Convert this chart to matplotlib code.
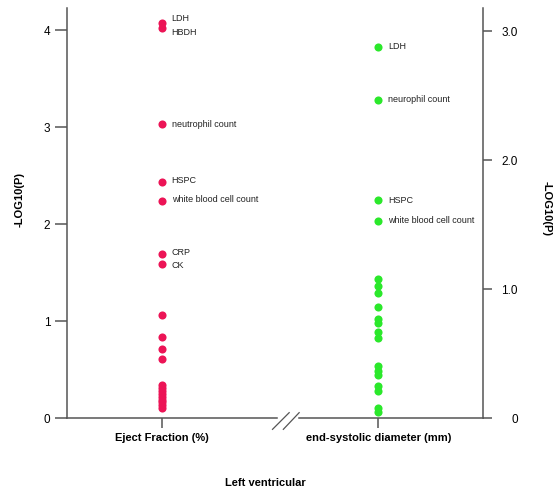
import matplotlib.pyplot as plt
from matplotlib.lines import Line2D

plt.rcParams['font.family'] = ['Liberation Sans', 'DejaVu Sans']

# categorias del eje x
categorias = ["Eject Fraction (%)", "end-systolic diameter (mm)"]

# Eject Fraction: -log10(P), eje izquierdo
ef_vals = [4.08, 4.02, 3.03, 2.44, 2.24, 1.69, 1.59, 1.06, 0.84, 0.71, 0.61,
           0.34, 0.31, 0.28, 0.25, 0.22, 0.19, 0.16, 0.13, 0.10]
ef_labels = ["LDH", "HBDH", "neutrophil count", "HSPC", "white blood cell count", "CRP", "CK"]

# end-systolic diameter: -log10(P), eje derecho
esd_vals = [2.88, 2.47, 1.69, 1.53, 1.08, 1.02, 0.97, 0.86, 0.77, 0.74, 0.67, 0.62,
            0.40, 0.365, 0.335, 0.25, 0.21, 0.08, 0.045]
esd_labels = ["LDH", "neurophil count", "HSPC", "white blood cell count"]

rojo = "#EC1456"
verde = "#2BE82B"
gris = "#555555"

fig = plt.figure(figsize=(5.57, 4.92), dpi=100)
ax = fig.add_axes([0.1203, 0.1504, 0.7469, 0.8333])
ax2 = ax.twinx()

ax.scatter([0] * len(ef_vals), ef_vals, color=rojo, s=34, linewidths=0, clip_on=False, zorder=3)
ax2.scatter([1] * len(esd_vals), esd_vals, color=verde, s=34, linewidths=0, clip_on=False, zorder=3)

# etiquetas de los puntos
ef_offsets = [3, -3, 0, 1, 1, 1, -1]
for i, lab in enumerate(ef_labels):
    ax.annotate(lab, (0, ef_vals[i]), xytext=(7, ef_offsets[i]), textcoords="offset points",
                fontsize=6.5, va="center", color="#222222")
for i, lab in enumerate(esd_labels):
    ax2.annotate(lab, (1, esd_vals[i]), xytext=(7, 0), textcoords="offset points",
                 fontsize=6.5, va="center", color="#222222")

ax.set_xlim(-0.4385, 1.4846)
ax.set_ylim(0, 4.23)
ax2.set_ylim(0, 3.18)

ax.set_yticks([0, 1, 2, 3, 4])
ax.set_yticklabels(["0", "1", "2", "3", "4"])
ax2.set_yticks([0, 1, 2, 3])
ax2.set_yticklabels(["0", "1.0", "2.0", "3.0"])
ax.set_xticks([0, 1])
ax.set_xticklabels(categorias, fontsize=8, fontweight="bold")

for a in (ax, ax2):
    for s in ("top", "bottom"):
        a.spines[s].set_visible(False)
    for s in ("left", "right"):
        a.spines[s].set_color(gris)
        a.spines[s].set_linewidth(1.1)
ax.spines["right"].set_visible(False)
ax2.spines["left"].set_visible(False)

ax.tick_params(axis="y", length=9, width=1.1, color=gris, labelsize=8.5, pad=3)
ax.tick_params(axis="x", length=7, width=1.1, color=gris, pad=4)
ax2.tick_params(axis="y", length=6.5, width=1.1, color=gris, labelsize=8.5, pad=18.5)
for t in ax2.get_yticklabels():
    t.set_horizontalalignment("right")

# eje x con corte
ax.add_line(Line2D([0, 0.505], [0, 0], transform=ax.transAxes, color=gris, lw=1.1, clip_on=False))
ax.add_line(Line2D([0.557, 1], [0, 0], transform=ax.transAxes, color=gris, lw=1.1, clip_on=False))
ax.add_line(Line2D([0.494, 0.534], [-0.0276, 0.013], transform=ax.transAxes, color=gris, lw=0.9, clip_on=False))
ax.add_line(Line2D([0.520, 0.558], [-0.0276, 0.013], transform=ax.transAxes, color=gris, lw=0.9, clip_on=False))

ax.text(-0.113, 0.532, "-LOG10(P)", transform=ax.transAxes, rotation=90, ha="center", va="center",
        fontsize=8, fontweight="bold")
ax.text(1.154, 0.512, "-LOG10(P)", transform=ax.transAxes, rotation=-90, ha="center", va="center",
        fontsize=8, fontweight="bold")
ax.text(0.476, -0.159, "Left ventricular", transform=ax.transAxes, ha="center", va="center",
        fontsize=8, fontweight="bold")

plt.savefig("out.png", dpi=100)
